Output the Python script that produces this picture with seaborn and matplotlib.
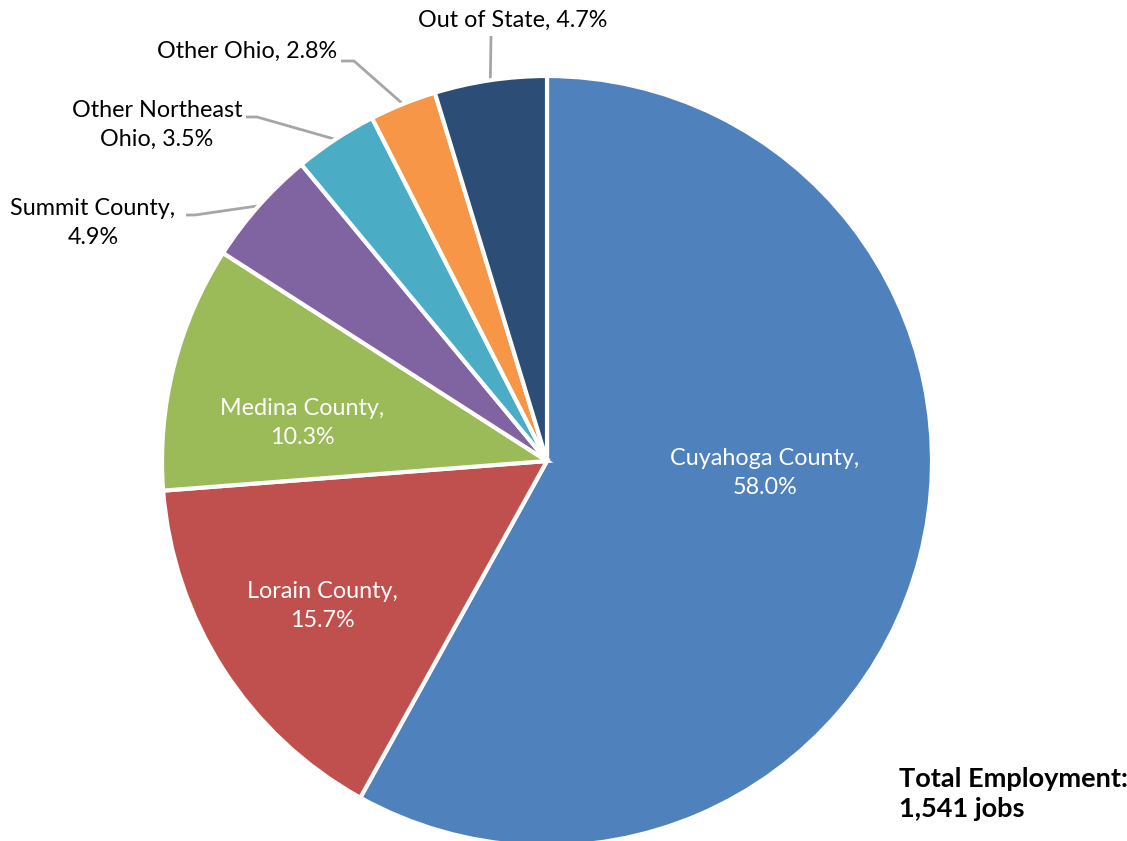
import numpy as np
import matplotlib
matplotlib.use("Agg")
import matplotlib.pyplot as plt
import seaborn as sns

categories = ["Cuyahoga County", "Lorain County", "Medina County", "Summit County",
              "Other Northeast Ohio", "Other Ohio", "Out of State"]
shares = [58.0, 15.7, 10.3, 4.9, 3.5, 2.8, 4.7]
label_texts = ["Cuyahoga County,\n58.0%", "Lorain County,\n15.7%", "Medina County,\n10.3%",
               "Summit County,\n4.9%", "Other Northeast\nOhio, 3.5%", "Other Ohio, 2.8%",
               "Out of State, 4.7%"]
colors = ["#4F81BD", "#C0504D", "#9BBB59", "#8064A2", "#4BACC6", "#F79646", "#2C4D75"]
total_title = "Total Employment:\n1,541 jobs"

sns.set_theme(style="white")
plt.rcParams['font.family'] = ['Lato', 'DejaVu Sans']

W, H = 1127, 841
fig = plt.figure(figsize=(W / 100, H / 100), dpi=100)
ax = fig.add_axes([0, 0, 1, 1])

cx, cy, r = 547, H - 461, 385
wedges, _ = ax.pie(shares, colors=sns.color_palette(colors), startangle=90, counterclock=False,
                   center=(cx, cy), radius=r, frame=True,
                   wedgeprops=dict(edgecolor="white", linewidth=3))
ax.set_xlim(0, W)
ax.set_ylim(0, H)
ax.set_aspect("equal")
ax.axis("off")

fs = 16.8
ls = 1.48
# inside labels (pixel coords from top)
inside = {0: (765, 473), 1: (322, 606), 2: (302, 423)}
for i, (x, y) in inside.items():
    ax.text(x, H - y, label_texts[i], color="white", ha="center", va="center",
            fontsize=fs, linespacing=ls)

def mid_point(w):
    th = np.deg2rad((w.theta1 + w.theta2) / 2)
    return cx + r * np.cos(th), cy + r * np.sin(th)

lc = "#A6A6A6"
# outside labels: text position, leader path (pixel coords, y from top)
outside = {
    3: ((93, 223), [(186, 215), (195, 215)]),
    4: ((157, 125), [(246, 117), (257, 117)]),
    5: ((247, 51), [(341, 61), (354, 61)]),
    6: ((513, 20), [(491, 36)]),
}
for i, ((tx, ty), path) in outside.items():
    ax.text(tx, H - ty, label_texts[i], color="#000000", ha="center", va="center",
            fontsize=fs, linespacing=ls)
    mx, my = mid_point(wedges[i])
    xs = [p[0] for p in path] + [mx]
    ys = [H - p[1] for p in path] + [my]
    ax.plot(xs, ys, color=lc, lw=2, solid_capstyle="butt", zorder=0.5)

ax.text(899, H - 794, total_title, color="#000000", ha="left", va="center",
        fontsize=19.5, fontweight="bold", linespacing=1.3)

fig.savefig("out.png", dpi=100, facecolor="white")
